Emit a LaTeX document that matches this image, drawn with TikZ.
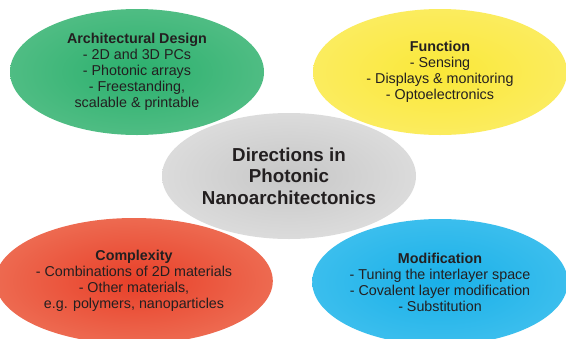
\documentclass[tikz,border=0pt]{standalone}
\usepackage{fontspec}
\setmainfont{Liberation Sans}
\usetikzlibrary{shapes.geometric}
\definecolor{txt}{HTML}{231F20}
\pgfdeclareradialshading{gsh}{\pgfpoint{0bp}{0bp}}{rgb(0bp)=(0.17,0.69,0.43); rgb(50bp)=(0.45,0.79,0.60)}
\pgfdeclareradialshading{ysh}{\pgfpoint{0bp}{0bp}}{rgb(0bp)=(0.98,0.91,0.22); rgb(50bp)=(0.99,0.94,0.52)}
\pgfdeclareradialshading{ksh}{\pgfpoint{0bp}{0bp}}{rgb(0bp)=(0.78,0.78,0.78); rgb(50bp)=(0.94,0.94,0.94)}
\pgfdeclareradialshading{rsh}{\pgfpoint{0bp}{0bp}}{rgb(0bp)=(0.91,0.25,0.16); rgb(50bp)=(0.95,0.58,0.47)}
\pgfdeclareradialshading{bsh}{\pgfpoint{0bp}{0bp}}{rgb(0bp)=(0.10,0.69,0.91); rgb(50bp)=(0.36,0.80,0.95)}
\tikzset{
  blob/.style={ellipse, inner sep=0pt, minimum width=254pt, minimum height=126pt,
    align=center, text=txt, font=\fontsize{14.3}{16}\selectfont},
  core/.style={blob, font=\fontsize{18.75}{21.5}\selectfont\bfseries}
}
\begin{document}
\begin{tikzpicture}[x=1pt,y=-1pt]
\useasboundingbox (0,0) rectangle (566,338);
\clip (0,0) rectangle (566,338);
\fill[white] (0,0) rectangle (566,338);
\node[blob, shading=gsh] (arch) at (137,72)
  {\textbf{Architectural Design}\\- 2D and 3D PCs\\- Photonic arrays\\- Freestanding,\\scalable \& printable};
\node[blob, shading=ysh] (func) at (440,72)
  {\textbf{Function}\\- Sensing\\- Displays \& monitoring\\- Optoelectronics};
\node[blob, shading=rsh] (comp) at (134,281)
  {\textbf{Complexity}\\- Combinations of 2D materials\\- Other materials,\\e.g. polymers, nanoparticles};
\node[blob, shading=bsh] (modi) at (440,282)
  {\textbf{Modification}\\- Tuning the interlayer space\\- Covalent layer modification\\- Substitution};
\node[core, shading=ksh] (dir) at (289,176)
  {Directions in\\Photonic\\Nanoarchitectonics};
\end{tikzpicture}
\end{document}
